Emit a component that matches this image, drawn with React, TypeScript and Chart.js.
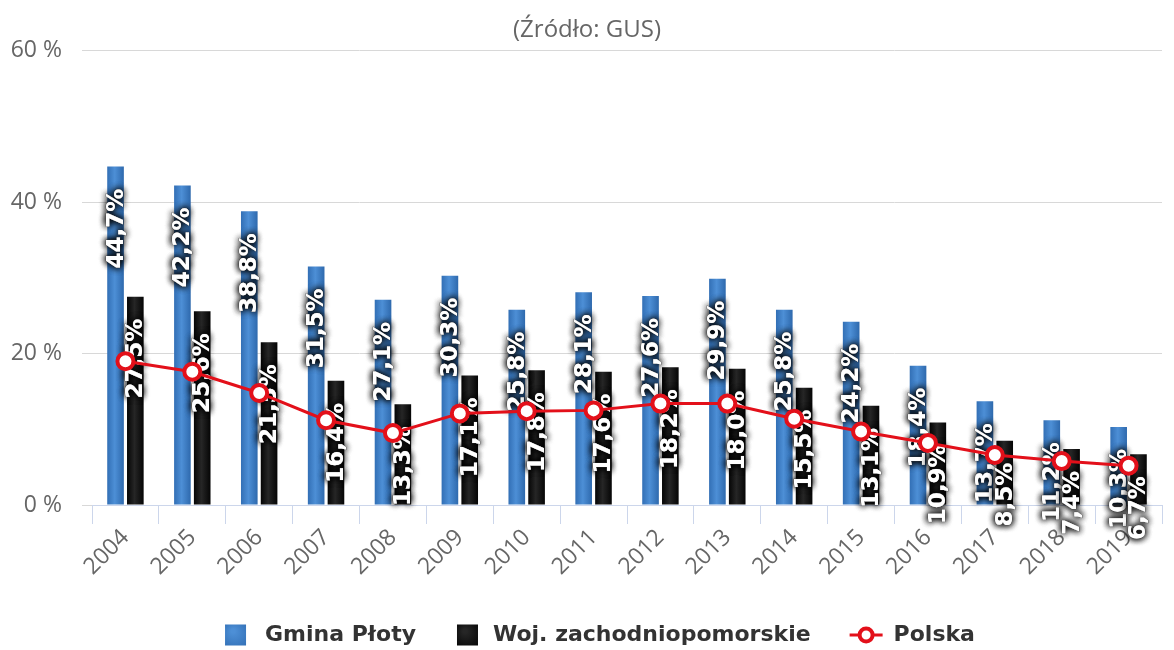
import React, { useEffect, useRef } from "react";
import { Chart, registerables } from "chart.js";

Chart.register(...registerables);

const YEARS = ["2004", "2005", "2006", "2007", "2008", "2009", "2010", "2011", "2012", "2013", "2014", "2015", "2016", "2017", "2018", "2019"];
const GMINA = [44.7, 42.2, 38.8, 31.5, 27.1, 30.3, 25.8, 28.1, 27.6, 29.9, 25.8, 24.2, 18.4, 13.7, 11.2, 10.3];
const WOJ = [27.5, 25.6, 21.5, 16.4, 13.3, 17.1, 17.8, 17.6, 18.2, 18.0, 15.5, 13.1, 10.9, 8.5, 7.4, 6.7];
const POLSKA = [19.0, 17.6, 14.8, 11.2, 9.5, 12.1, 12.4, 12.5, 13.4, 13.4, 11.4, 9.7, 8.2, 6.6, 5.8, 5.2];
const Y_TICKS = [0, 20, 40, 60];
const TITLE = "(Źródło: GUS)";
const LABELS = ["Gmina Płoty", "Woj. zachodniopomorskie", "Polska"];

const CAT_PCT = 0.592;
const BAR_PCT = 0.84;
const BLUE_STOPS = ["#326fb5", "#4d8fd6", "#2e69ad"];
const BLACK_STOPS = ["#050505", "#262626", "#050505"];
const RED = "#e3101a";
const TICK_FONT = "'Open Sans', sans-serif";
const BOLD_FONT = "'DejaVu Sans', sans-serif";

function barGrad(c: any, side: number, stops: string[]) {
  const chart = c.chart;
  const xs = chart.scales && chart.scales.x;
  if (!xs || c.type !== "data" || c.dataIndex === undefined || !xs.width) return stops[1];
  const center = xs.getPixelForValue(c.dataIndex);
  const cat = xs.width / YEARS.length;
  const slot = (cat * CAT_PCT) / 2;
  const bw = slot * BAR_PCT;
  const cx = center + (side === 0 ? -slot / 2 : slot / 2);
  const g = chart.ctx.createLinearGradient(cx - bw / 2, 0, cx + bw / 2, 0);
  g.addColorStop(0, stops[0]);
  g.addColorStop(0.45, stops[1]);
  g.addColorStop(1, stops[2]);
  return g;
}

const fmt = (v: number) => v.toFixed(1).replace(".", ",") + "%";

const barLabelPlugin = {
  id: "barLabels",
  beforeDatasetDraw(chart: any, args: any) {
    if (args.meta.type !== "line") return;
    const ctx = chart.ctx;
    chart.data.datasets.forEach((ds: any, di: number) => {
      const meta = chart.getDatasetMeta(di);
      if (meta.type !== "bar") return;
      meta.data.forEach((el: any, i: number) => {
        const text = fmt(ds.data[i]);
        ctx.save();
        ctx.translate(el.x, el.y + 22);
        ctx.rotate(-Math.PI / 2);
        ctx.font = `bold 23px ${BOLD_FONT}`;
        ctx.textAlign = "right";
        ctx.textBaseline = "middle";
        ctx.shadowColor = "rgba(0,0,0,0.95)";
        ctx.shadowBlur = 7;
        ctx.fillStyle = "#ffffff";
        ctx.fillText(text, 0, 1);
        ctx.fillText(text, 0, 1);
        ctx.fillText(text, 0, 1);
        ctx.shadowBlur = 0;
        ctx.lineJoin = "round";
        ctx.lineWidth = 1;
        ctx.strokeStyle = "rgba(60,60,60,0.5)";
        ctx.strokeText(text, 0, 1);
        ctx.fillText(text, 0, 1);
        ctx.restore();
      });
    });
  },
};

const legendPlugin = {
  id: "customLegend",
  afterDraw(chart: any) {
    const ctx = chart.ctx;
    const cy = 635;
    ctx.save();
    ctx.font = `bold 22px ${BOLD_FONT}`;
    ctx.textBaseline = "middle";
    ctx.textAlign = "left";
    const w = LABELS.map((l) => ctx.measureText(l).width);
    const total = 21 + 19 + w[0] + 41 + 21 + 15 + w[1] + 39 + 33 + 11 + w[2];
    let x = 600 - total / 2;
    const drawBox = (bx: number, stops: string[]) => {
      const g = ctx.createRadialGradient(bx + 8, cy - 4, 2, bx + 10.5, cy, 16);
      g.addColorStop(0, stops[1]);
      g.addColorStop(1, stops[0]);
      ctx.fillStyle = g;
      ctx.fillRect(bx, cy - 10.5, 21, 21);
    };
    drawBox(x, BLUE_STOPS);
    x += 21 + 19;
    ctx.fillStyle = "#333333";
    ctx.fillText(LABELS[0], x, cy);
    x += w[0] + 41;
    drawBox(x, BLACK_STOPS);
    x += 21 + 15;
    ctx.fillStyle = "#333333";
    ctx.fillText(LABELS[1], x, cy);
    x += w[1] + 39;
    ctx.strokeStyle = RED;
    ctx.lineWidth = 3;
    ctx.beginPath();
    ctx.moveTo(x, cy);
    ctx.lineTo(x + 33, cy);
    ctx.stroke();
    ctx.beginPath();
    ctx.arc(x + 16.5, cy, 6.5, 0, Math.PI * 2);
    ctx.fillStyle = "#ffffff";
    ctx.fill();
    ctx.lineWidth = 4;
    ctx.stroke();
    x += 33 + 11;
    ctx.fillStyle = "#333333";
    ctx.fillText(LABELS[2], x, cy);
    ctx.restore();
  },
};

export default function App() {
  const ref = useRef<HTMLCanvasElement | null>(null);
  useEffect(() => {
    if (!ref.current) return;
    const chart = new Chart(ref.current, {
      type: "bar",
      data: {
        labels: YEARS,
        datasets: [
          {
            type: "bar",
            label: LABELS[0],
            data: GMINA,
            order: 1,
            backgroundColor: (c: any) => barGrad(c, 0, BLUE_STOPS),
            categoryPercentage: CAT_PCT,
            barPercentage: BAR_PCT,
          } as any,
          {
            type: "bar",
            label: LABELS[1],
            data: WOJ,
            order: 2,
            backgroundColor: (c: any) => barGrad(c, 1, BLACK_STOPS),
            categoryPercentage: CAT_PCT,
            barPercentage: BAR_PCT,
          } as any,
          {
            type: "line",
            label: LABELS[2],
            data: POLSKA,
            order: 0,
            borderColor: RED,
            borderWidth: 3,
            pointRadius: 8,
            pointBorderWidth: 4,
            pointBackgroundColor: "#ffffff",
            pointBorderColor: RED,
            tension: 0,
          } as any,
        ],
      },
      options: {
        animation: false,
        responsive: false,
        maintainAspectRatio: false,
        layout: { padding: 0 },
        plugins: {
          legend: { display: false },
          tooltip: { enabled: false },
          title: {
            display: true,
            text: TITLE,
            color: "#666666",
            font: { family: TICK_FONT, size: 24, weight: "normal" },
            padding: { top: 16, bottom: 6 },
          },
        },
        scales: {
          x: {
            offset: true,
            afterFit: (s: any) => {
              s.height = 145;
            },
            grid: {
              display: true,
              offset: true,
              drawOnChartArea: false,
              drawTicks: true,
              tickLength: 19,
              color: "#ccd6eb",
            },
            border: { display: true, color: "#ccd6eb", width: 1 },
            ticks: {
              minRotation: 45,
              maxRotation: 45,
              padding: 0,
              color: "#666666",
              font: { family: TICK_FONT, size: 23 },
            },
          },
          y: {
            min: Y_TICKS[0],
            max: Y_TICKS[Y_TICKS.length - 1],
            afterFit: (s: any) => {
              s.width = 92;
            },
            afterBuildTicks: (s: any) => {
              s.ticks = Y_TICKS.map((v) => ({ value: v }));
            },
            grid: { color: "#d8d8d8", lineWidth: 1, drawTicks: true, tickLength: 10 },
            border: { display: false },
            ticks: {
              padding: 20,
              color: "#666666",
              font: { family: TICK_FONT, size: 23 },
              callback: (v: any) => v + " %",
            },
          },
        },
      },
      plugins: [barLabelPlugin, legendPlugin],
    });
    return () => chart.destroy();
  }, []);
  return (
    <div style={{ position: "absolute", left: 0, top: 0, width: 1174, height: 650, background: "#fff" }}>
      <canvas ref={ref} width={1174} height={650} style={{ width: 1174, height: 650 }} />
    </div>
  );
}
